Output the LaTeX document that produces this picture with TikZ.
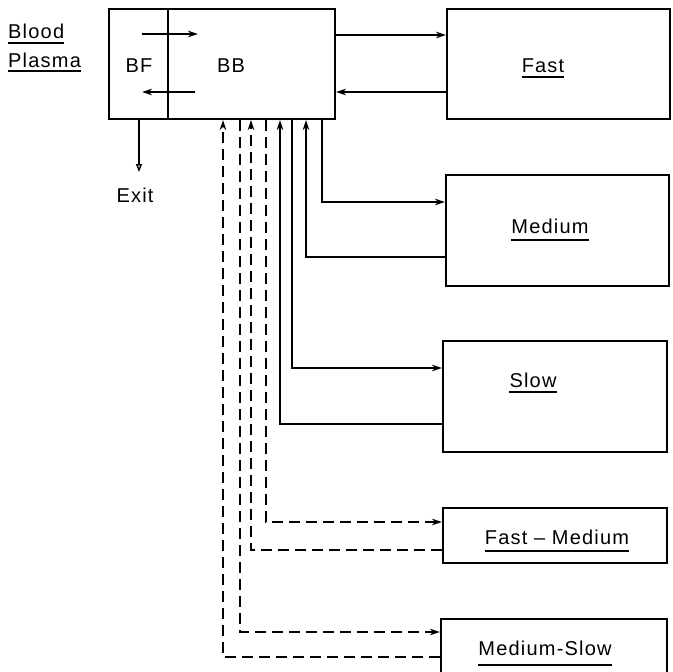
\documentclass[tikz,border=0pt]{standalone}
\usepackage{fontspec}
\setmainfont{Liberation Sans}[LetterSpace=6]
\usetikzlibrary{arrows.meta,calc}
\begin{document}
\begin{tikzpicture}[x=1pt,y=-1pt,
  box/.style={draw,line width=2pt,inner sep=0pt},
  txt/.style={anchor=base,inner sep=0pt,font=\fontsize{20}{22}\selectfont},
  conn/.style={line width=1.4pt,-{Stealth[length=10pt,width=6.5pt]}},
  dsh/.style={line width=1.4pt,dash pattern=on 11pt off 6pt},
  ul/.style={line width=1.2pt}]
\useasboundingbox (0,0) rectangle (672,672);
% boxes
\node[box,minimum width=59pt,minimum height=110pt] (bf) at (138.5,64) {};
\node[box,minimum width=167pt,minimum height=110pt] (bb) at (251.5,64) {};
\node[box,minimum width=223pt,minimum height=110pt] (fast) at (558.5,64) {};
\node[box,minimum width=223pt,minimum height=111pt] (medium) at (557.5,230.5) {};
\node[box,minimum width=224pt,minimum height=111pt] (slow) at (555,396.5) {};
\node[box,minimum width=224pt,minimum height=55pt] (fm) at (555,535.5) {};
\node[box,minimum width=226pt,minimum height=56pt] (ms) at (554,647) {};
% texts
\node[txt,anchor=base west] (blood) at (8,38) {Blood};
\node[txt,anchor=base west] (plasma) at (8,67) {Plasma};
\node[txt] (bftxt) at (139,72) {BF};
\node[txt] (bbtxt) at (231,72) {BB};
\node[txt] (exit) at (135,202) {Exit};
\node[txt] (lfast) at (543,72) {Fast};
\node[txt] (lmed) at (550,233) {Medium};
\node[txt] (lslow) at (533,387) {Slow};
\node[txt] (lfm) at (557,544) {Fast – Medium};
\node[txt] (lms) at (545,655) {Medium-Slow};
% underlines
\foreach \n/\d in {blood/5,plasma/4,lfast/5,lmed/7,lslow/5,lfm/7,lms/10}
  \draw[ul] ([yshift=-\d pt]\n.base west) -- ([yshift=-\d pt]\n.base east);
% internal BF/BB arrows
\coordinate (a1) at (142,34);
\coordinate (a2) at (198,34);
\coordinate (a3) at (195,92);
\coordinate (a4) at (142,92);
\draw[conn] (a1) -- (a2);
\draw[conn] (a3) -- (a4);
% exit
\coordinate (ex) at (139,172);
\draw[line width=1.4pt,-{Triangle[open,length=8pt,width=6pt]}] (bf.south -| ex) -- (ex);
% BB <-> Fast
\draw[conn] (bb.north east |- 0,35) -- (fast.north west |- 0,35);
\draw[conn] (fast.north west |- 0,92) -- (bb.north east |- 0,92);
% BB <-> Medium
\draw[conn] ($(bb.south west)+(155,0)$) |- ($(medium.north west)+(0,28)$);
\draw[conn] ($(medium.north west)+(0,83)$) -| ($(bb.south west)+(139,0)$);
% BB <-> Slow
\draw[conn] ($(bb.south west)+(125,0)$) |- ($(slow.north west)+(0,28)$);
\draw[conn] ($(slow.north west)+(0,84)$) -| ($(bb.south west)+(113,0)$);
% BB <-> Fast-Medium (dashed)
\draw[conn,dsh] ($(bb.south west)+(99,0)$) |- ($(fm.north west)+(0,15)$);
\draw[conn,dsh] ($(fm.north west)+(0,43)$) -| ($(bb.south west)+(84,0)$);
% BB <-> Medium-Slow (dashed)
\draw[conn,dsh] ($(bb.south west)+(73,0)$) |- ($(ms.north west)+(0,14)$);
\draw[conn,dsh] ($(ms.north west)+(0,39)$) -| ($(bb.south west)+(56,0)$);
\end{tikzpicture}
\end{document}
